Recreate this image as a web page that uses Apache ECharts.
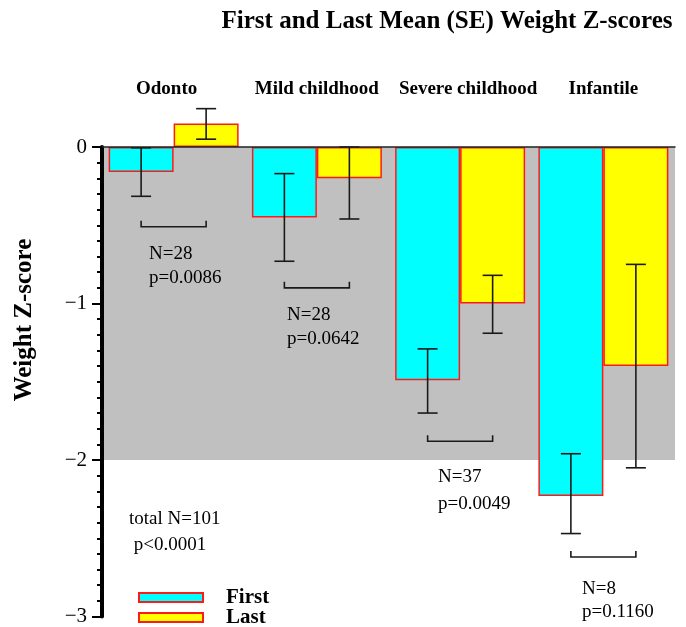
<!DOCTYPE html>
<html>
<head>
<meta charset="utf-8">
<script src="https://cdn.jsdelivr.net/npm/echarts@6/dist/echarts.min.js"></script>
<style>html,body{margin:0;padding:0;background:#fff;}#c{width:686px;height:627px;}</style>
</head>
<body>
<div id="c"></div>
<script>
// ---- data ----
const categories = ['Odonto', 'Mild childhood', 'Severe childhood', 'Infantile'];
const firstMean = [-0.16, -0.45, -1.49, -2.23];
const lastMean = [0.15, -0.20, -1.00, -1.40];
const firstErrHigh = [-0.005, -0.17, -1.29, -1.96];
const firstErrLow = [-0.315, -0.73, -1.70, -2.47];
const lastErrHigh = [0.245, 0.0, -0.82, -0.75];
const lastErrLow = [0.05, -0.46, -1.19, -2.05];
const bracketLevel = [-0.51, -0.90, -1.88, -2.62];
const nLabels = ['N=28', 'N=28', 'N=37', 'N=8'];
const pLabels = ['p=0.0086', 'p=0.0642', 'p=0.0049', 'p=0.1160'];
const totalLabels = ['total N=101', ' p<0.0001'];
const seriesNames = ['First', 'Last'];
const yMin = -3, yMax = 0, yInterval = 1;
const greyBand = [0, -2];

// ---- layout / style ----
const SERIF = '"Liberation Serif", "DejaVu Serif", serif';
const BAR_W = 65;
const HALF = BAR_W / 2;
const labelShift = [-7, 0, 8, 0];

const chart = echarts.init(document.getElementById('c'));

function errRender(offset) {
  return function (params, api) {
    const idx = api.value(0);
    const pLo = api.coord([idx, api.value(1)]);
    const pHi = api.coord([idx, api.value(2)]);
    const x = pLo[0] + offset;
    const st = { stroke: '#1a1a1a', lineWidth: 1.6 };
    return {
      type: 'group',
      children: [
        { type: 'line', shape: { x1: x, y1: pHi[1], x2: x, y2: pLo[1] }, style: st },
        { type: 'line', shape: { x1: x - 10, y1: pHi[1], x2: x + 10, y2: pHi[1] }, style: st },
        { type: 'line', shape: { x1: x - 10, y1: pLo[1], x2: x + 10, y2: pLo[1] }, style: st }
      ]
    };
  };
}

function bracketRender(params, api) {
  const idx = api.value(0);
  const p = api.coord([idx, api.value(1)]);
  const x1 = p[0] - HALF, x2 = p[0] + HALF, y = p[1];
  return {
    type: 'polyline',
    shape: { points: [[x1, y - 6], [x1, y], [x2, y], [x2, y - 6]] },
    style: { stroke: '#1a1a1a', lineWidth: 1.6, fill: null }
  };
}

const annot = [
  { x: 149, yN: 254, yP: 278 },
  { x: 287, yN: 315, yP: 339 },
  { x: 438, yN: 477, yP: 504 },
  { x: 582, yN: 589, yP: 612 }
];
const graphics = [
  { type: 'text', x: 447, y: 22,
    style: { text: 'First and Last Mean (SE) Weight Z-scores', font: 'bold 25px ' + SERIF, fill: '#000', textAlign: 'center', textVerticalAlign: 'middle' } },
  { type: 'text', x: 25, y: 320, rotation: Math.PI / 2,
    style: { text: 'Weight Z-score', font: 'bold 25px ' + SERIF, fill: '#000', textAlign: 'center', textVerticalAlign: 'middle' } },
  { type: 'text', x: 129, y: 519, style: { text: totalLabels[0], font: '19px ' + SERIF, fill: '#000', textVerticalAlign: 'middle' } },
  { type: 'text', x: 129, y: 545, style: { text: totalLabels[1], font: '19px ' + SERIF, fill: '#000', textVerticalAlign: 'middle' } }
];
annot.forEach((a, i) => {
  graphics.push({ type: 'text', x: a.x, y: a.yN, z: 20, style: { text: nLabels[i], font: '19px ' + SERIF, fill: '#000', textVerticalAlign: 'middle' } });
  graphics.push({ type: 'text', x: a.x, y: a.yP, z: 20, style: { text: pLabels[i], font: '19px ' + SERIF, fill: '#000', textVerticalAlign: 'middle' } });
});

const legendTops = [587, 607];
const option = {
  animation: false,
  backgroundColor: '#fff',
  grid: { left: 102, right: 11, top: 147, bottom: 5, containLabel: false },
  legend: seriesNames.map((n, i) => ({
    orient: 'horizontal', left: 138, top: legendTops[i], padding: 0,
    itemWidth: 64, itemHeight: 9,
    icon: 'rect',
    textStyle: { fontFamily: SERIF, fontWeight: 'bold', fontSize: 21, color: '#000', padding: [0, 0, 0, 18] },
    data: [n]
  })),
  xAxis: {
    type: 'category',
    position: 'top',
    data: categories.map((c, i) => ({
      value: c,
      textStyle: { padding: labelShift[i] < 0 ? [0, -2 * labelShift[i], 0, 0] : [0, 0, 0, 2 * labelShift[i]] }
    })),
    z: 10,
    axisLine: { show: true, onZero: true, lineStyle: { color: '#222', width: 1.5 } },
    axisTick: { show: false },
    axisLabel: { interval: 0, margin: 48, fontFamily: SERIF, fontWeight: 'bold', fontSize: 19, color: '#000' },
    splitLine: { show: false }
  },
  yAxis: {
    type: 'value', min: yMin, max: yMax, interval: yInterval,
    z: 10,
    axisLine: { show: true, lineStyle: { color: '#000', width: 4 } },
    axisTick: { show: true, length: 10, lineStyle: { color: '#000', width: 2 } },
    minorTick: { show: true, splitNumber: 10, length: 5, lineStyle: { color: '#000', width: 2 } },
    axisLabel: {
      margin: 15, fontFamily: SERIF, fontSize: 21, color: '#000',
      formatter: v => (v < 0 ? '\u2212' + Math.abs(v) : String(v))
    },
    splitLine: { show: false }
  },
  series: [
    {
      type: 'line', name: 'band', data: [], z: 0, silent: true,
      markArea: {
        silent: true,
        itemStyle: { color: '#c0c0c0' },
        data: [[{ yAxis: greyBand[0] }, { yAxis: greyBand[1] }]]
      }
    },
    {
      name: seriesNames[0], type: 'bar', data: firstMean, barWidth: BAR_W, barGap: '0%', clip: false, z: 3,
      itemStyle: { color: '#00ffff', borderColor: '#ff1a1a', borderWidth: 1.5 }
    },
    {
      name: seriesNames[1], type: 'bar', data: lastMean, barWidth: BAR_W, barGap: '0%', clip: false, z: 3,
      itemStyle: { color: '#ffff00', borderColor: '#ff1a1a', borderWidth: 1.5 }
    },
    {
      type: 'custom', name: 'errFirst', z: 5, clip: false, silent: true,
      renderItem: errRender(-HALF),
      encode: { x: 0, y: [1, 2] },
      data: categories.map((c, i) => [i, firstErrLow[i], firstErrHigh[i]])
    },
    {
      type: 'custom', name: 'errLast', z: 5, clip: false, silent: true,
      renderItem: errRender(HALF),
      encode: { x: 0, y: [1, 2] },
      data: categories.map((c, i) => [i, lastErrLow[i], lastErrHigh[i]])
    },
    {
      type: 'custom', name: 'brackets', z: 5, clip: false, silent: true,
      renderItem: bracketRender,
      encode: { x: 0, y: 1 },
      data: categories.map((c, i) => [i, bracketLevel[i]])
    }
  ],
  graphic: graphics
};
chart.setOption(option);
</script>
</body>
</html>
